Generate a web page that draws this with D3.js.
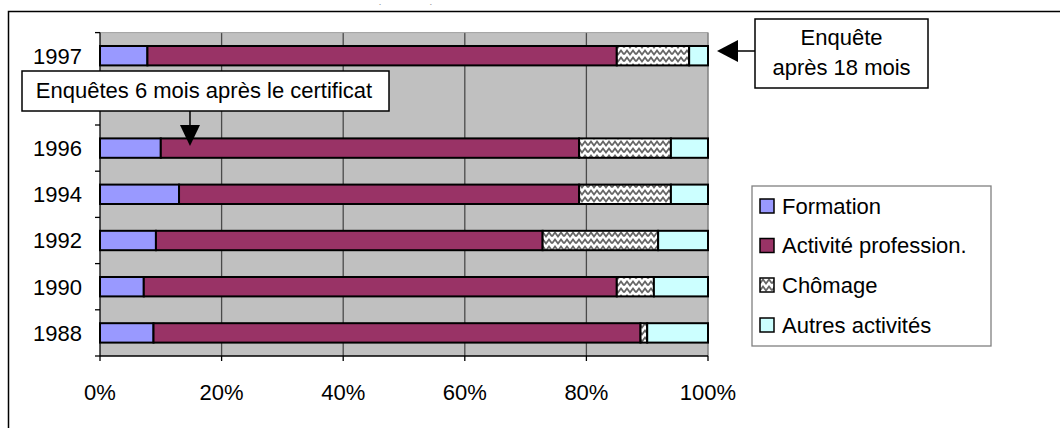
<!DOCTYPE html>
<html>
<head>
<meta charset="utf-8">
<script src="https://cdn.jsdelivr.net/npm/d3@7"></script>
<style>
  html, body { margin: 0; padding: 0; background: #fff; }
  svg { display: block; font-family: "Liberation Sans", Arial, sans-serif; }
</style>
</head>
<body>
<svg id="chart" width="1060" height="428"></svg>
<script>
// ---- data ----
const categories = ["1997", " ", "1996", "1994", "1992", "1990", "1988"];
const formation  = [7.8, 0, 10.0, 13.0, 9.2, 7.2, 8.8];
const activite   = [77.2, 0, 68.8, 65.8, 63.6, 77.8, 80.1];
const chomage    = [11.9, 0, 15.1, 15.1, 19.0, 6.1, 1.1];
const autres     = [3.1, 0, 6.1, 6.1, 8.2, 8.9, 10.0];
const seriesNames = ["Formation", "Activité profession.", "Chômage", "Autres activités"];
const xTicks = [0, 20, 40, 60, 80, 100];
const xTickLabels = ["0%", "20%", "40%", "60%", "80%", "100%"];
const annotation1 = "Enquêtes 6 mois après le certificat";
const annotation2 = ["Enquête", "après 18 mois"];

const FS = 22;
const svg = d3.select("#chart");
const defs = svg.append("defs");
const pat = defs.append("pattern").attr("id", "hatch")
  .attr("patternUnits", "userSpaceOnUse").attr("width", 12).attr("height", 7);
pat.append("rect").attr("width", 12).attr("height", 7).attr("fill", "#fff");
pat.append("path").attr("d", "M0,5.5 L3,1.5 L6,5.5 L9,1.5 L12,5.5")
  .attr("fill", "none").attr("stroke", "#666").attr("stroke-width", 1.8);

// outer frame
svg.append("rect").attr("x", 8.5).attr("y", 11.5).attr("width", 1100).attr("height", 500)
  .attr("fill", "#fff").attr("stroke", "#000").attr("stroke-width", 1.5);

// tiny marks at top
svg.append("text").attr("x", 380).attr("y", 9).attr("font-size", 8).attr("fill", "#444").attr("text-anchor", "middle").text("`");
svg.append("text").attr("x", 431).attr("y", 9).attr("font-size", 8).attr("fill", "#444").attr("text-anchor", "middle").text("´");

const pL = 100, pR = 708, pT = 32.6, pB = 356;
const x = d3.scaleLinear().domain([0, 100]).range([pL, pR]);
const y = d3.scaleBand().domain(categories).range([pT, pB])
  .paddingInner(0.58).paddingOuter(0.29);

// plot background
svg.append("rect").attr("x", pL).attr("y", pT).attr("width", pR - pL).attr("height", pB - pT)
  .attr("fill", "#c0c0c0");
// gridlines
svg.append("g").selectAll("line").data(xTicks.slice(1, -1)).join("line")
  .attr("x1", d => x(d)).attr("x2", d => x(d)).attr("y1", pT).attr("y2", pB)
  .attr("stroke", "#4a4a4a").attr("stroke-width", 1.3);
svg.append("line").attr("x1", x(100)).attr("x2", x(100)).attr("y1", pT).attr("y2", pB)
  .attr("stroke", "#808080").attr("stroke-width", 1.5);
svg.append("line").attr("x1", pL).attr("x2", pR).attr("y1", pT).attr("y2", pT)
  .attr("stroke", "#a0a0a0").attr("stroke-width", 1);

// stacked bars
const fills = ["#9999ff", "#993366", "url(#hatch)", "#ccffff"];
const stackData = categories.map((c, i) => ({ cat: c, s0: formation[i], s1: activite[i], s2: chomage[i], s3: autres[i] }));
const stack = d3.stack().keys(["s0", "s1", "s2", "s3"])(stackData);
const gBars = svg.append("g");
stack.forEach((layer, li) => {
  gBars.append("g").selectAll("rect").data(layer.filter(d => (d[1] - d[0]) > 0)).join("rect")
    .attr("x", d => x(d[0])).attr("width", d => x(d[1]) - x(d[0]))
    .attr("y", d => y(d.data.cat)).attr("height", y.bandwidth())
    .attr("fill", fills[li]).attr("stroke", "#000").attr("stroke-width", 2);
});

// y axis
svg.append("line").attr("x1", pL).attr("x2", pL).attr("y1", pT).attr("y2", pB)
  .attr("stroke", "#000").attr("stroke-width", 1.3);
const boundaries = d3.range(categories.length + 1).map(i => pT + i * y.step());
svg.append("g").selectAll("line").data(boundaries).join("line")
  .attr("x1", pL - 5).attr("x2", pL).attr("y1", d => d).attr("y2", d => d)
  .attr("stroke", "#000").attr("stroke-width", 1.3);
svg.append("g").selectAll("text").data(categories).join("text")
  .attr("x", 82).attr("y", d => y(d) + y.bandwidth() / 2)
  .attr("dy", "0.36em").attr("text-anchor", "end").attr("font-size", FS).text(d => d.trim());

// x axis
svg.append("line").attr("x1", pL).attr("x2", pR).attr("y1", pB).attr("y2", pB)
  .attr("stroke", "#000").attr("stroke-width", 1.3);
svg.append("g").selectAll("line").data(xTicks).join("line")
  .attr("x1", d => x(d)).attr("x2", d => x(d)).attr("y1", pB).attr("y2", pB + 5)
  .attr("stroke", "#000").attr("stroke-width", 1.3);
svg.append("g").selectAll("text").data(xTicks).join("text")
  .attr("x", d => x(d)).attr("y", 392).attr("dy", "0.36em").attr("text-anchor", "middle")
  .attr("font-size", FS).text((d, i) => xTickLabels[i]);

// annotation 1
svg.append("rect").attr("x", 22).attr("y", 71).attr("width", 367).attr("height", 40)
  .attr("fill", "#fff").attr("stroke", "#000").attr("stroke-width", 1.5);
svg.append("text").attr("x", 204).attr("y", 90).attr("dy", "0.36em").attr("text-anchor", "middle")
  .attr("font-size", FS).text(annotation1);
const ax1 = x(14.8);
svg.append("line").attr("x1", ax1).attr("x2", ax1).attr("y1", 111).attr("y2", 128)
  .attr("stroke", "#000").attr("stroke-width", 1.5);
svg.append("path").attr("d", `M${ax1 - 10},125 L${ax1 + 10},125 L${ax1},146 Z`).attr("fill", "#000");

// annotation 2
svg.append("rect").attr("x", 755).attr("y", 19).attr("width", 173).attr("height", 69)
  .attr("fill", "#fff").attr("stroke", "#000").attr("stroke-width", 1.5);
svg.append("text").attr("x", 841.5).attr("y", 37).attr("dy", "0.36em").attr("text-anchor", "middle")
  .attr("font-size", FS).text(annotation2[0]);
svg.append("text").attr("x", 841.5).attr("y", 67).attr("dy", "0.36em").attr("text-anchor", "middle")
  .attr("font-size", FS).text(annotation2[1]);
svg.append("line").attr("x1", 735).attr("x2", 755).attr("y1", 51).attr("y2", 51)
  .attr("stroke", "#000").attr("stroke-width", 1.5);
svg.append("path").attr("d", "M717,51 L738,40 L738,62 Z").attr("fill", "#000");

// legend
svg.append("rect").attr("x", 752).attr("y", 186).attr("width", 239).attr("height", 160)
  .attr("fill", "#fff").attr("stroke", "#808080").attr("stroke-width", 1.3);
const legY = [206, 245.5, 285, 325];
const lg = svg.append("g").selectAll("g").data(seriesNames).join("g")
  .attr("transform", (d, i) => `translate(760,${legY[i]})`);
lg.append("rect").attr("x", 0).attr("y", -7).attr("width", 14).attr("height", 14)
  .attr("fill", (d, i) => fills[i]).attr("stroke", "#000").attr("stroke-width", 1.5);
lg.append("text").attr("x", 22).attr("y", 0).attr("dy", "0.36em").attr("font-size", FS).text(d => d);
</script>
</body>
</html>
